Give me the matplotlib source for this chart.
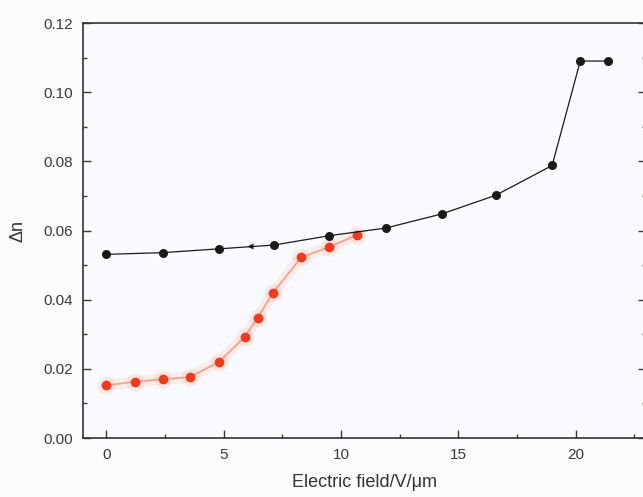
import matplotlib.pyplot as plt
from matplotlib.ticker import MultipleLocator

plt.rcParams["font.family"] = ["Liberation Sans", "DejaVu Sans"]

# black series
field_black = [0.0, 2.4, 4.8, 7.15, 9.5, 11.9, 14.3, 16.6, 19.0, 20.2, 21.4]
dn_black = [0.0531, 0.0536, 0.0547, 0.0558, 0.0585, 0.0607, 0.0648, 0.0702, 0.0788, 0.1090, 0.1090]
arrow_x = [6.1]
arrow_y = [0.0554]

# red series
field_red = [0.0, 1.2, 2.4, 3.55, 4.8, 5.9, 6.45, 7.1, 8.3, 9.5, 10.7]
dn_red = [0.0152, 0.0163, 0.0170, 0.0176, 0.0220, 0.0293, 0.0348, 0.0420, 0.0522, 0.0553, 0.0587]

fig = plt.figure(figsize=(6.43, 4.97), dpi=100, facecolor="#fafbfd")
ax = fig.add_axes([0.129, 0.1187, 0.8756, 0.835])
ax.set_facecolor("#f8fafd")

# soft glow behind red series
ax.plot(field_red, dn_red, color="#ffc8bc", lw=8, alpha=0.25, solid_capstyle="round")
ax.plot(field_red, dn_red, "o", color="#ffb0a0", ms=13, alpha=0.22, mec="none")
ax.plot(field_red, dn_red, "-", color="#f8a088", lw=1.3)
ax.plot(field_red, dn_red, "o", color="#f03a1e", ms=7, mec="none")

ax.plot(field_black, dn_black, "-o", color="#1a1a1a", lw=0.9, ms=6.5, mec="none")
ax.plot(arrow_x, arrow_y, "<", color="#1a1a1a", ms=4, mec="none")

ax.set_xlim(-1, 23)
ax.set_ylim(0, 0.12)
ax.xaxis.set_major_locator(MultipleLocator(5))
ax.xaxis.set_minor_locator(MultipleLocator(2.5))
ax.yaxis.set_major_locator(MultipleLocator(0.02))
ax.yaxis.set_minor_locator(MultipleLocator(0.01))
ax.yaxis.set_major_formatter(plt.FormatStrFormatter("%.2f"))
ax.tick_params(which="both", direction="in", right=True, top=False,
               colors="#3a3a3a", labelsize=11, width=1)
ax.tick_params(which="major", length=6, pad=7)
ax.tick_params(which="minor", length=3)
for s in ax.spines.values():
    s.set_color("#333333")
    s.set_linewidth(1.2)

ax.set_xlabel("Electric field/V/\u03bcm", fontsize=13, color="#333333", labelpad=9)
ax.set_ylabel("\u0394n", fontsize=13, color="#333333", labelpad=12)

fig.savefig("out.png", dpi=100, facecolor=fig.get_facecolor())
